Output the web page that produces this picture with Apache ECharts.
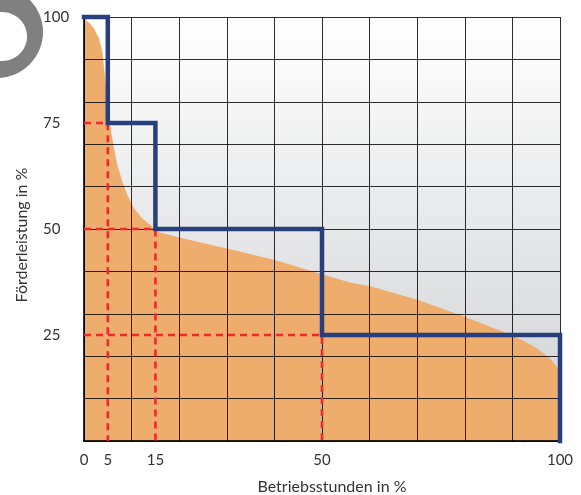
<!DOCTYPE html>
<html>
<head>
<meta charset="utf-8">
<script src="https://cdn.jsdelivr.net/npm/echarts@6/dist/echarts.min.js"></script>
<style>
html,body{margin:0;padding:0;background:#fff;}
#chart{width:581px;height:495px;}
</style>
</head>
<body>
<div id="chart"></div>
<script>
// Load curve (Förderleistung over Betriebsstunden)
const curveX = [0, 0.35, 1.2, 2.1, 3.15, 3.85, 4.4, 4.9, 5.6, 6.3, 7.0, 8.05, 9.1, 10.5, 12.25, 14.0, 15.3, 20, 30, 40.1, 50.3, 55.9, 60.1, 70, 80, 88.8, 92.5, 95.1, 97.9, 99.3, 100];
const curveY = [100, 99.3, 98.5, 97.3, 95, 91.8, 86, 80, 73.7, 69, 65.1, 61.2, 58, 54.9, 52.5, 50.9, 49.4, 48, 45.4, 42.7, 39.2, 37.4, 36.5, 33.3, 29.3, 25.4, 23.6, 21.9, 19.5, 17.5, 16.7];
// Stepped pump operation
const stepX = [0, 5, 5, 15, 15, 50, 50, 100, 100];
const stepY = [100, 100, 75, 75, 50, 50, 25, 25, 0];
// Dashed guide lines
const guide75X = [0, 5, 5];   const guide75Y = [75, 75, 0];
const guide50X = [0, 15, 15]; const guide50Y = [50, 50, 0];
const guide25X = [0, 50, 50]; const guide25Y = [25, 25, 0];
// Tick labels
const xTickLabels = [0, 5, 15, 50, 100];
const yTickLabels = [25, 50, 75, 100];
const xTitle = 'Betriebsstunden in %';
const yTitle = 'Förderleistung in %';

const zip = (xs, ys) => xs.map((x, i) => [x, ys[i]]);
const FONT = 'Lato';
const lineCol = 'rgba(0,0,0,0.82)';

const chart = echarts.init(document.getElementById('chart'), null, {renderer: 'canvas'});
const guideStyle = {color: '#ef2a2c', width: 2.6, type: [7, 5]};
chart.setOption({
  animation: false,
  backgroundColor: '#ffffff',
  grid: {
    left: 84, top: 17, right: 21, bottom: 54,
    outerBoundsMode: 'none', containLabel: false,
    show: true, borderWidth: 0,
    backgroundColor: {type: 'linear', x: 0, y: 0, x2: 0, y2: 1,
      colorStops: [{offset: 0, color: '#ffffff'}, {offset: 1, color: '#cfd0d3'}]}
  },
  graphic: [
    {type: 'circle', z: 100, shape: {cx: -3, cy: 32, r: 46}, style: {fill: '#808080'}},
    {type: 'ellipse', z: 101, shape: {cx: 2, cy: 36.5, rx: 25, ry: 24.5}, style: {fill: '#ffffff'}}
  ],
  xAxis: {
    type: 'value', min: 0, max: 100, interval: 10, z: 3,
    name: xTitle, nameLocation: 'middle', nameGap: 38,
    nameTextStyle: {fontFamily: FONT, fontSize: 16, color: '#333', padding: [0, 0, 0, 20]},
    axisLine: {show: true, lineStyle: {color: lineCol, width: 2}},
    axisTick: {show: false},
    axisLabel: {customValues: xTickLabels, margin: 12, fontFamily: FONT, fontSize: 15, color: '#333'},
    splitLine: {show: true, lineStyle: {color: lineCol, width: 1}}
  },
  yAxis: {
    type: 'value', min: 0, max: 100, interval: 10, z: 3,
    name: yTitle, nameLocation: 'middle', nameGap: 54, nameRotate: 90,
    nameTextStyle: {fontFamily: FONT, fontSize: 16, color: '#333', padding: [0, 12, 0, 0]},
    axisLine: {show: true, lineStyle: {color: lineCol, width: 2}},
    axisTick: {show: false},
    axisLabel: {customValues: yTickLabels, margin: 41, align: 'left', fontFamily: FONT, fontSize: 15, color: '#333'},
    splitLine: {show: true, lineStyle: {color: lineCol, width: 1}}
  },
  series: [
    {type: 'line', data: zip(curveX, curveY), smooth: false, symbol: 'none', z: 1,
     lineStyle: {width: 0}, areaStyle: {color: '#eeac6d', opacity: 1}},
    {type: 'line', data: zip(guide75X, guide75Y), symbol: 'none', z: 4, lineStyle: guideStyle, clip: false},
    {type: 'line', data: zip(guide50X, guide50Y), symbol: 'none', z: 4, lineStyle: guideStyle, clip: false},
    {type: 'line', data: zip(guide25X, guide25Y), symbol: 'none', z: 4, lineStyle: guideStyle, clip: false},
    {type: 'line', data: zip(stepX, stepY), symbol: 'none', z: 5, clip: false,
     lineStyle: {color: '#27407d', width: 4.5, join: 'miter', cap: 'square'}}
  ]
});
</script>
</body>
</html>
